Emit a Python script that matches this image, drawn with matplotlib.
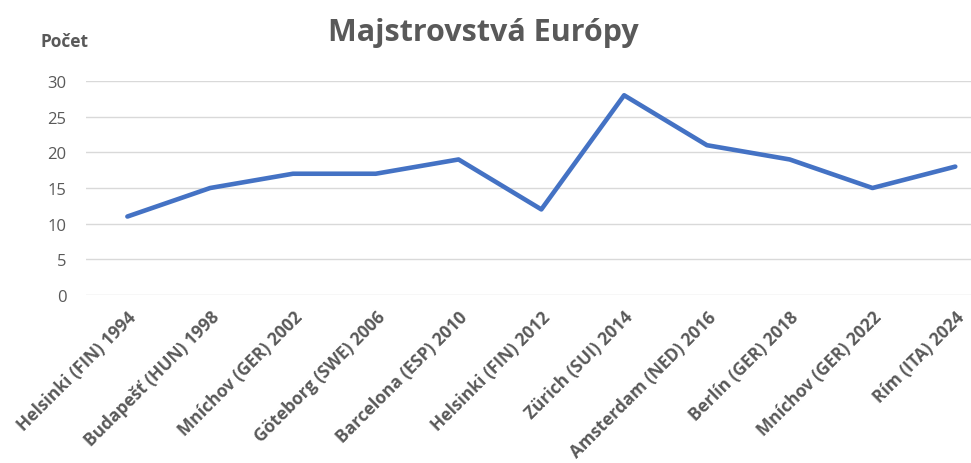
import matplotlib
matplotlib.use("Agg")
import matplotlib.pyplot as plt

categories = ["Helsinki (FIN) 1994", "Budapešť (HUN) 1998", "Mníchov (GER) 2002",
              "Göteborg (SWE) 2006", "Barcelona (ESP) 2010", "Helsinki (FIN) 2012",
              "Zürich (SUI) 2014", "Amsterdam (NED) 2016", "Berlín (GER) 2018",
              "Mníchov (GER) 2022", "Rím (ITA) 2024"]
counts = [11, 15, 17, 17, 19, 12, 28, 21, 19, 15, 18]
yticks = [0, 5, 10, 15, 20, 25, 30]

plt.rcParams['font.family'] = ['Open Sans', 'DejaVu Sans']
gray = '#595959'

fig = plt.figure(figsize=(9.71, 4.64), dpi=100)
ax = fig.add_axes([86/971, 1-296/464, 1-86/971, (296-82)/464])
x = list(range(len(categories)))
ax.plot(x, counts, color='#4472C4', lw=3.3, solid_capstyle='round', solid_joinstyle='round', zorder=3)
ax.set_xlim(-0.5, 10.19)
ax.set_ylim(0, 30)
ax.set_yticks(yticks)
ax.set_yticklabels([str(v) for v in yticks], fontsize=12, color=gray)
ax.set_xticks(x)
ax.set_xticklabels(categories, rotation=45, ha='right', rotation_mode='anchor',
                   fontsize=12.5, color=gray, fontweight='bold')
ax.tick_params(axis='both', length=0)
ax.tick_params(axis='y', pad=14)
ax.tick_params(axis='x', pad=9)
ax.grid(axis='y', color='#D9D9D9', lw=1)
ax.set_axisbelow(True)
for s in ax.spines.values():
    s.set_visible(False)

fig.text(483/971, 1-33/464, "Majstrovstvá Európy", ha='center', va='center',
         fontsize=22, fontweight='bold', color=gray)
fig.text(40/971, 1-42/464, "Počet", ha='left', va='center',
         fontsize=12.5, fontweight='bold', color=gray)

fig.savefig("out.png", dpi=100)
